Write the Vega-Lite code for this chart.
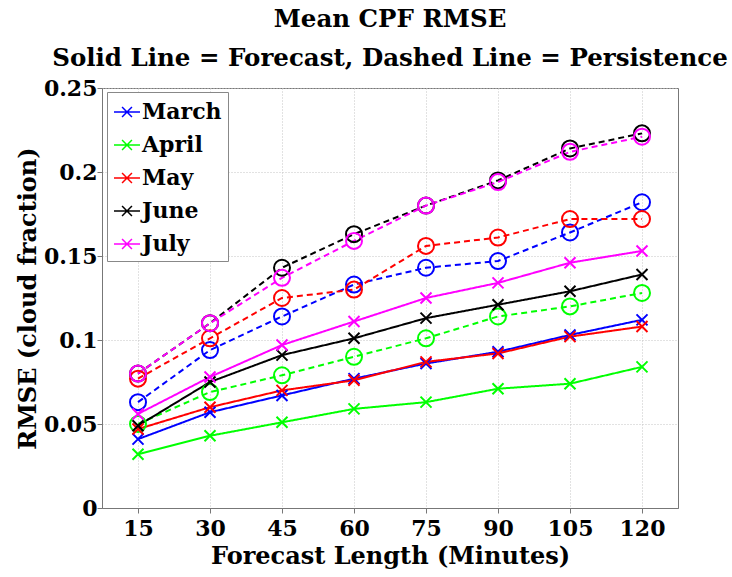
{
  "$schema": "https://vega.github.io/schema/vega-lite/v6.json",
  "width": 576,
  "height": 420,
  "autosize": {"type": "none"},
  "padding": {"left": 102, "top": 88, "right": 54, "bottom": 69},
  "background": "white",
  "title": {
    "text": ["Mean CPF RMSE", "Solid Line = Forecast, Dashed Line = Persistence"],
    "font": "DejaVu Serif",
    "fontSize": 24.5,
    "fontWeight": "bold",
    "lineHeight": 39,
    "offset": 6,
    "anchor": "middle",
    "color": "black"
  },
  "config": {
    "font": "DejaVu Serif",
    "view": {"stroke": "#777", "strokeWidth": 1},
    "axis": {
      "labelFont": "DejaVu Serif",
      "labelFontSize": 22,
      "labelFontWeight": "bold",
      "labelColor": "black",
      "titleFont": "DejaVu Serif",
      "titleFontSize": 24,
      "titleFontWeight": "bold",
      "titleColor": "black",
      "domainColor": "#777",
      "tickColor": "#777",
      "gridColor": "#c4c4c4",
      "gridDash": [1, 2],
      "gridWidth": 1
    }
  },
  "data": {
    "values": [
      {"m": 15, "month": "March", "type": "Forecast", "rmse": 0.041},
      {"m": 30, "month": "March", "type": "Forecast", "rmse": 0.057},
      {"m": 45, "month": "March", "type": "Forecast", "rmse": 0.067},
      {"m": 60, "month": "March", "type": "Forecast", "rmse": 0.077},
      {"m": 75, "month": "March", "type": "Forecast", "rmse": 0.086},
      {"m": 90, "month": "March", "type": "Forecast", "rmse": 0.093},
      {"m": 105, "month": "March", "type": "Forecast", "rmse": 0.103},
      {"m": 120, "month": "March", "type": "Forecast", "rmse": 0.112},
      {"m": 15, "month": "March", "type": "Persistence", "rmse": 0.063},
      {"m": 30, "month": "March", "type": "Persistence", "rmse": 0.094},
      {"m": 45, "month": "March", "type": "Persistence", "rmse": 0.114},
      {"m": 60, "month": "March", "type": "Persistence", "rmse": 0.133},
      {"m": 75, "month": "March", "type": "Persistence", "rmse": 0.143},
      {"m": 90, "month": "March", "type": "Persistence", "rmse": 0.147},
      {"m": 105, "month": "March", "type": "Persistence", "rmse": 0.164},
      {"m": 120, "month": "March", "type": "Persistence", "rmse": 0.182},
      {"m": 15, "month": "April", "type": "Forecast", "rmse": 0.032},
      {"m": 30, "month": "April", "type": "Forecast", "rmse": 0.043},
      {"m": 45, "month": "April", "type": "Forecast", "rmse": 0.051},
      {"m": 60, "month": "April", "type": "Forecast", "rmse": 0.059},
      {"m": 75, "month": "April", "type": "Forecast", "rmse": 0.063},
      {"m": 90, "month": "April", "type": "Forecast", "rmse": 0.071},
      {"m": 105, "month": "April", "type": "Forecast", "rmse": 0.074},
      {"m": 120, "month": "April", "type": "Forecast", "rmse": 0.084},
      {"m": 15, "month": "April", "type": "Persistence", "rmse": 0.050},
      {"m": 30, "month": "April", "type": "Persistence", "rmse": 0.069},
      {"m": 45, "month": "April", "type": "Persistence", "rmse": 0.079},
      {"m": 60, "month": "April", "type": "Persistence", "rmse": 0.090},
      {"m": 75, "month": "April", "type": "Persistence", "rmse": 0.101},
      {"m": 90, "month": "April", "type": "Persistence", "rmse": 0.114},
      {"m": 105, "month": "April", "type": "Persistence", "rmse": 0.120},
      {"m": 120, "month": "April", "type": "Persistence", "rmse": 0.128},
      {"m": 15, "month": "May", "type": "Forecast", "rmse": 0.047},
      {"m": 30, "month": "May", "type": "Forecast", "rmse": 0.060},
      {"m": 45, "month": "May", "type": "Forecast", "rmse": 0.070},
      {"m": 60, "month": "May", "type": "Forecast", "rmse": 0.076},
      {"m": 75, "month": "May", "type": "Forecast", "rmse": 0.087},
      {"m": 90, "month": "May", "type": "Forecast", "rmse": 0.092},
      {"m": 105, "month": "May", "type": "Forecast", "rmse": 0.102},
      {"m": 120, "month": "May", "type": "Forecast", "rmse": 0.108},
      {"m": 15, "month": "May", "type": "Persistence", "rmse": 0.077},
      {"m": 30, "month": "May", "type": "Persistence", "rmse": 0.101},
      {"m": 45, "month": "May", "type": "Persistence", "rmse": 0.125},
      {"m": 60, "month": "May", "type": "Persistence", "rmse": 0.130},
      {"m": 75, "month": "May", "type": "Persistence", "rmse": 0.156},
      {"m": 90, "month": "May", "type": "Persistence", "rmse": 0.161},
      {"m": 105, "month": "May", "type": "Persistence", "rmse": 0.172},
      {"m": 120, "month": "May", "type": "Persistence", "rmse": 0.172},
      {"m": 15, "month": "June", "type": "Forecast", "rmse": 0.049},
      {"m": 30, "month": "June", "type": "Forecast", "rmse": 0.075},
      {"m": 45, "month": "June", "type": "Forecast", "rmse": 0.091},
      {"m": 60, "month": "June", "type": "Forecast", "rmse": 0.101},
      {"m": 75, "month": "June", "type": "Forecast", "rmse": 0.113},
      {"m": 90, "month": "June", "type": "Forecast", "rmse": 0.121},
      {"m": 105, "month": "June", "type": "Forecast", "rmse": 0.129},
      {"m": 120, "month": "June", "type": "Forecast", "rmse": 0.139},
      {"m": 15, "month": "June", "type": "Persistence", "rmse": 0.080},
      {"m": 30, "month": "June", "type": "Persistence", "rmse": 0.110},
      {"m": 45, "month": "June", "type": "Persistence", "rmse": 0.143},
      {"m": 60, "month": "June", "type": "Persistence", "rmse": 0.163},
      {"m": 75, "month": "June", "type": "Persistence", "rmse": 0.180},
      {"m": 90, "month": "June", "type": "Persistence", "rmse": 0.195},
      {"m": 105, "month": "June", "type": "Persistence", "rmse": 0.214},
      {"m": 120, "month": "June", "type": "Persistence", "rmse": 0.223},
      {"m": 15, "month": "July", "type": "Forecast", "rmse": 0.056},
      {"m": 30, "month": "July", "type": "Forecast", "rmse": 0.078},
      {"m": 45, "month": "July", "type": "Forecast", "rmse": 0.097},
      {"m": 60, "month": "July", "type": "Forecast", "rmse": 0.111},
      {"m": 75, "month": "July", "type": "Forecast", "rmse": 0.125},
      {"m": 90, "month": "July", "type": "Forecast", "rmse": 0.134},
      {"m": 105, "month": "July", "type": "Forecast", "rmse": 0.146},
      {"m": 120, "month": "July", "type": "Forecast", "rmse": 0.153},
      {"m": 15, "month": "July", "type": "Persistence", "rmse": 0.080},
      {"m": 30, "month": "July", "type": "Persistence", "rmse": 0.110},
      {"m": 45, "month": "July", "type": "Persistence", "rmse": 0.137},
      {"m": 60, "month": "July", "type": "Persistence", "rmse": 0.159},
      {"m": 75, "month": "July", "type": "Persistence", "rmse": 0.180},
      {"m": 90, "month": "July", "type": "Persistence", "rmse": 0.194},
      {"m": 105, "month": "July", "type": "Persistence", "rmse": 0.212},
      {"m": 120, "month": "July", "type": "Persistence", "rmse": 0.221}
    ]
  },
  "encoding": {
    "x": {
      "field": "m",
      "type": "quantitative",
      "scale": {"domain": [7.5, 127.5], "nice": false, "zero": false},
      "axis": {
        "values": [15, 30, 45, 60, 75, 90, 105, 120],
        "title": "Forecast Length (Minutes)",
        "tickSize": 5,
        "labelPadding": 5,
        "titlePadding": 5
      }
    },
    "y": {
      "field": "rmse",
      "type": "quantitative",
      "scale": {"domain": [0, 0.25], "nice": false},
      "axis": {
        "values": [0, 0.05, 0.1, 0.15, 0.2, 0.25],
        "labelExpr": "datum.value === 0 ? '0' : format(datum.value, '.2~f')",
        "title": "RMSE (cloud fraction)",
        "tickSize": 5,
        "labelPadding": 0,
        "titlePadding": 3
      }
    },
    "color": {
      "field": "month",
      "type": "nominal",
      "scale": {
        "domain": ["March", "April", "May", "June", "July"],
        "range": ["#0000ff", "#00ff00", "#ff0000", "#000000", "#ff00ff"]
      },
      "legend": {
        "orient": "none",
        "legendX": 5,
        "legendY": 4,
        "title": null,
        "symbolType": "M-1,0H1M-0.38,-0.38L0.38,0.38M-0.38,0.38L0.38,-0.38",
        "symbolSize": 676,
        "symbolStrokeWidth": 1.5,
        "symbolFillColor": "transparent",
        "labelFont": "DejaVu Serif",
        "labelFontSize": 22,
        "labelFontWeight": "bold",
        "labelColor": "black",
        "labelOffset": 1,
        "strokeColor": "#888",
        "fillColor": "white",
        "padding": 6,
        "rowPadding": 8
      }
    }
  },
  "layer": [
    {
      "mark": {"type": "line", "strokeWidth": 2},
      "encoding": {
        "detail": {"field": "type"},
        "strokeDash": {
          "field": "type",
          "type": "nominal",
          "scale": {"domain": ["Forecast", "Persistence"], "range": [[1, 0], [6, 4]]},
          "legend": null
        }
      }
    },
    {
      "mark": {"type": "point", "filled": false, "strokeWidth": 2, "opacity": 1},
      "encoding": {
        "shape": {
          "field": "type",
          "type": "nominal",
          "scale": {"domain": ["Forecast", "Persistence"], "range": ["M-1,-1L1,1M-1,1L1,-1", "circle"]},
          "legend": null
        },
        "size": {
          "field": "type",
          "type": "nominal",
          "scale": {"domain": ["Forecast", "Persistence"], "range": [121, 256]},
          "legend": null
        }
      }
    }
  ]
}
